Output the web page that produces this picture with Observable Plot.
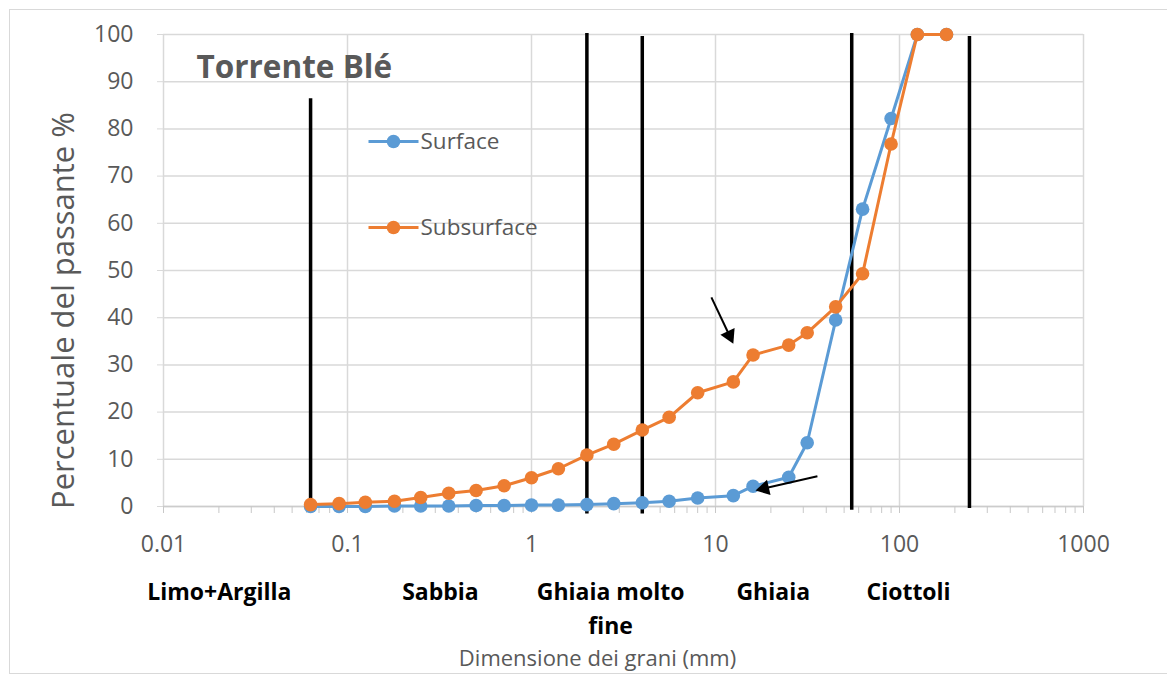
<!DOCTYPE html>
<html>
<head>
<meta charset="utf-8">
<script src="https://cdn.jsdelivr.net/npm/d3@7"></script>
<script src="https://cdn.jsdelivr.net/npm/@observablehq/plot@0.6"></script>
<style>
  body { margin: 0; background: #fff; }
  #wrap { position: relative; width: 1167px; height: 676px; overflow: hidden; }
  #border { position: absolute; left: 9px; top: 9px; width: 1200px; height: 663px; border: 1px solid #d9d9d9; pointer-events: none; }
</style>
</head>
<body>
<div id="wrap"><div id="border"></div></div>
<script>
// ---- data ----
const sieveSizes = [0.063, 0.09, 0.125, 0.18, 0.25, 0.355, 0.5, 0.71, 1, 1.4, 2, 2.8, 4, 5.6, 8, 12.5, 16, 25, 31.5, 45, 63, 90, 125, 180];
const surface    = [0, 0, 0, 0.1, 0.1, 0.1, 0.2, 0.2, 0.3, 0.3, 0.4, 0.6, 0.8, 1.1, 1.8, 2.3, 4.3, 6.2, 13.5, 39.5, 63, 82.2, 100, 100];
const subsurface = [0.4, 0.6, 0.9, 1.1, 1.9, 2.8, 3.4, 4.4, 6.1, 8.0, 10.9, 13.2, 16.2, 18.9, 24.1, 26.4, 32.1, 34.2, 36.8, 42.3, 49.3, 76.8, 100, 100];
const seriesNames = ["Surface", "Subsurface"];
const seriesColors = ["#5B9BD5", "#ED7D31"];
const xTicks = [0.01, 0.1, 1, 10, 100, 1000];
const yTicks = [0, 10, 20, 30, 40, 50, 60, 70, 80, 90, 100];
const classBoundaries = [0.063, 2, 4, 55, 240];
const boundaryTop = [86.4, 100.2, 99.6, 100.2, 99.6];
const boundaryBottom = [-1.3, -1.6, -1.6, -0.8, -0.4];
const classNames = ["Limo+Argilla", "Sabbia", "Ghiaia molto\nfine", "Ghiaia", "Ciottoli"];
const classLabelAt = [0.0201, 0.32, 2.69, 20.6, 112];
const arrowFrom = [[9.5, 44.3], [35.8, 6.4]];
const arrowTo = [[12.5, 34.5], [16.5, 3.4]];
const chartTitle = "Torrente Blé";
const yTitle = "Percentuale del passante %";
const xTitle = "Dimensione dei grani (mm)";

// ---- tables ----
const rows = [];
sieveSizes.forEach((s, i) => {
  rows.push({series: seriesNames[0], size: s, value: surface[i]});
  rows.push({series: seriesNames[1], size: s, value: subsurface[i]});
});
const boundaries = classBoundaries.map((x, i) => ({x, y1: boundaryBottom[i], y2: boundaryTop[i]}));
const classes = classNames.map((name, i) => ({name, x: classLabelAt[i]}));
const minorTicks = [];
for (let e = -2; e <= 2; e++) for (let m = 1; m <= 9; m++) minorTicks.push(+(m * Math.pow(10, e)).toPrecision(3));
minorTicks.push(1000);

const W = 1167, H = 676;
const base = {
  width: W, height: H,
  marginLeft: 163, marginRight: W - 1083, marginTop: 34, marginBottom: H - 506,
  x: {type: "log", domain: [0.01, 1000]},
  y: {domain: [0, 100]},
  color: {domain: seriesNames, range: seriesColors},
  style: {fontFamily: "'Open Sans', sans-serif", color: "#595959", background: "transparent", overflow: "visible"}
};

// probe the scales to orient the arrow heads in screen space
const probe = Plot.plot({...base, marks: [Plot.frame({strokeOpacity: 0})]});
const sx = probe.scale("x"), sy = probe.scale("y");
const headR = 7.5, headS = headR * Math.sqrt(Math.PI) * 0.6824;
const arrows = arrowFrom.map((f, i) => {
  const t = arrowTo[i];
  const p1 = [sx.apply(f[0]), sy.apply(f[1])], p2 = [sx.apply(t[0]), sy.apply(t[1])];
  const len = Math.hypot(p2[0] - p1[0], p2[1] - p1[1]);
  const u = [(p2[0] - p1[0]) / len, (p2[1] - p1[1]) / len];
  const c = [p2[0] - headS * u[0], p2[1] - headS * u[1]];
  const e = [p2[0] - 1.3 * headS * u[0], p2[1] - 1.3 * headS * u[1]];
  return {
    x1: f[0], y1: f[1],
    x2: sx.invert(e[0]), y2: sy.invert(e[1]),
    hx: sx.invert(c[0]), hy: sy.invert(c[1]),
    rot: Math.atan2(u[0], -u[1]) * 180 / Math.PI
  };
});

const lineSymbol = {draw(ctx) { ctx.moveTo(-25, 0); ctx.lineTo(25, 0); }};
const grid = "#d9d9d9";

const chart = Plot.plot({
  ...base,
  marks: [
    Plot.gridX(xTicks, {stroke: grid, strokeOpacity: 1, strokeWidth: 1.5}),
    Plot.gridY(yTicks, {stroke: grid, strokeOpacity: 1, strokeWidth: 1.5}),
    Plot.ruleY([0], {stroke: "#cccccc", strokeWidth: 1.5}),
    Plot.axisY(yTicks, {tickSize: 6, tickPadding: 24, stroke: grid, fontSize: 23, label: null}),
    Plot.axisX(minorTicks, {tickSize: 7, tickFormat: () => "", stroke: "#c8c8c8", label: null}),
    Plot.axisX(xTicks, {tickSize: 7, tickPadding: 22, stroke: "#c8c8c8", fontSize: 23, tickFormat: d => String(d), label: null}),
    Plot.ruleX(boundaries, {x: "x", y1: "y1", y2: "y2", stroke: "black", strokeWidth: 3.5}),
    Plot.line(rows.filter(d => d.series === seriesNames[0]), {x: "size", y: "value", stroke: "series", strokeWidth: 3}),
    Plot.dot(rows.filter(d => d.series === seriesNames[0]), {x: "size", y: "value", fill: "series", r: 6.8}),
    Plot.line(rows.filter(d => d.series === seriesNames[1]), {x: "size", y: "value", stroke: "series", strokeWidth: 3}),
    Plot.dot(rows.filter(d => d.series === seriesNames[1]), {x: "size", y: "value", fill: "series", r: 6.8}),
    // arrows
    Plot.link(arrows, {x1: "x1", y1: "y1", x2: "x2", y2: "y2", stroke: "black", strokeWidth: 2}),
    Plot.dot(arrows, {x: "hx", y: "hy", symbol: "triangle2", r: headR, fill: "black", rotate: "rot"}),
    // legend
    Plot.dot([seriesNames[0]], {frameAnchor: "top-left", dx: 230, dy: 107, symbol: lineSymbol, stroke: seriesColors[0], strokeWidth: 3, r: 5}),
    Plot.dot([seriesNames[0]], {frameAnchor: "top-left", dx: 230, dy: 107, fill: seriesColors[0], r: 6.8}),
    Plot.text([seriesNames[0]], {frameAnchor: "top-left", dx: 257, dy: 107, text: d => d, textAnchor: "start", lineAnchor: "middle", fontSize: 22.5, fill: "#595959"}),
    Plot.dot([seriesNames[1]], {frameAnchor: "top-left", dx: 230, dy: 193, symbol: lineSymbol, stroke: seriesColors[1], strokeWidth: 3, r: 5}),
    Plot.dot([seriesNames[1]], {frameAnchor: "top-left", dx: 230, dy: 193, fill: seriesColors[1], r: 6.8}),
    Plot.text([seriesNames[1]], {frameAnchor: "top-left", dx: 257, dy: 193, text: d => d, textAnchor: "start", lineAnchor: "middle", fontSize: 22.5, fill: "#595959"}),
    // title
    Plot.text([chartTitle], {frameAnchor: "top-left", dx: 33, dy: 33, text: d => d, textAnchor: "start", lineAnchor: "middle", fontSize: 31.5, fontWeight: "bold", fill: "#595959"}),
    // class labels
    Plot.text(classes, {x: "x", frameAnchor: "bottom", dy: 69, text: "name", lineAnchor: "top", lineHeight: 1.48, fontSize: 23, fontWeight: "bold", fill: "black"}),
    // axis titles
    Plot.text([xTitle], {frameAnchor: "bottom", dx: -26, dy: 152, text: d => d, textAnchor: "middle", lineAnchor: "middle", fontSize: 22, fill: "#595959"}),
    Plot.text([yTitle], {frameAnchor: "left", dx: -99, dy: 40, text: d => d, rotate: -90, textAnchor: "middle", lineAnchor: "middle", fontSize: 31, fill: "#595959"})
  ]
});
document.getElementById("wrap").prepend(chart);
</script>
</body>
</html>
